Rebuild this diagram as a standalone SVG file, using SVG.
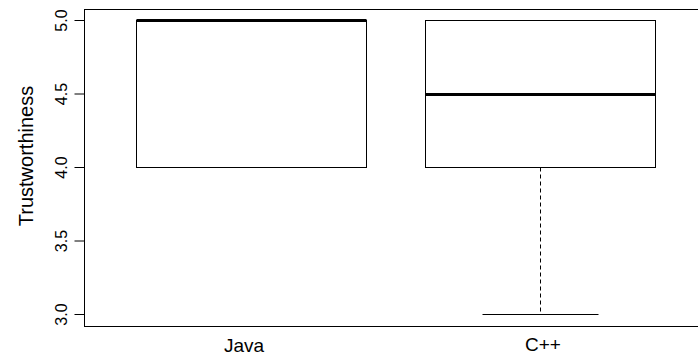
<svg xmlns="http://www.w3.org/2000/svg" width="698" height="355" viewBox="0 0 698 355">
<style>
.ln{stroke:#000;stroke-width:1;fill:none}
.box{stroke:#000;stroke-width:1;fill:#fff}
.med{stroke:#000;stroke-width:3}
.dash{stroke:#000;stroke-width:1;stroke-dasharray:4,3}
.tick{font-family:"Liberation Sans",Arial,sans-serif;font-size:16px;fill:#000;text-anchor:middle}
.lab{font-family:"Liberation Sans",Arial,sans-serif;font-size:19px;fill:#000;text-anchor:middle}
</style>
<rect x="0" y="0" width="698" height="355" fill="#fff"/>
<g id="axes">
<rect class="ln" x="84.5" y="9.5" width="640" height="317"/>
<path class="ln" d="M74.5 20.5H84.5M74.5 94H84.5M74.5 167.5H84.5M74.5 241H84.5M74.5 314.5H84.5"/>
<text class="tick" transform="translate(67,20.5) rotate(-90)">5.0</text>
<text class="tick" transform="translate(67,94) rotate(-90)">4.5</text>
<text class="tick" transform="translate(67,167.5) rotate(-90)">4.0</text>
<text class="tick" transform="translate(67,241) rotate(-90)">3.5</text>
<text class="tick" transform="translate(67,314.5) rotate(-90)">3.0</text>
<text class="lab" style="font-size:20px" transform="translate(33,156) rotate(-90)">Trustworthiness</text>
<text class="lab" x="244" y="352">Java</text>
<text class="lab" x="543" y="351">C++</text>
</g>
<g id="java">
<rect class="box" x="136.5" y="20.5" width="230" height="147"/>
<line class="ln" x1="193.5" y1="167.5" x2="309.5" y2="167.5"/>
<line class="med" x1="136.5" y1="20.5" x2="366.5" y2="20.5"/>
</g>
<g id="cpp">
<rect class="box" x="425.5" y="20.5" width="230" height="147"/>
<line class="ln" x1="482.5" y1="20.5" x2="598.5" y2="20.5"/>
<line class="med" x1="425.5" y1="94.5" x2="655.5" y2="94.5"/>
</g>
<g id="connectors">
<line class="dash" x1="540.5" y1="167.5" x2="540.5" y2="314.5"/>
<line class="ln" x1="482.5" y1="314.5" x2="598.5" y2="314.5"/>
</g>
</svg>
